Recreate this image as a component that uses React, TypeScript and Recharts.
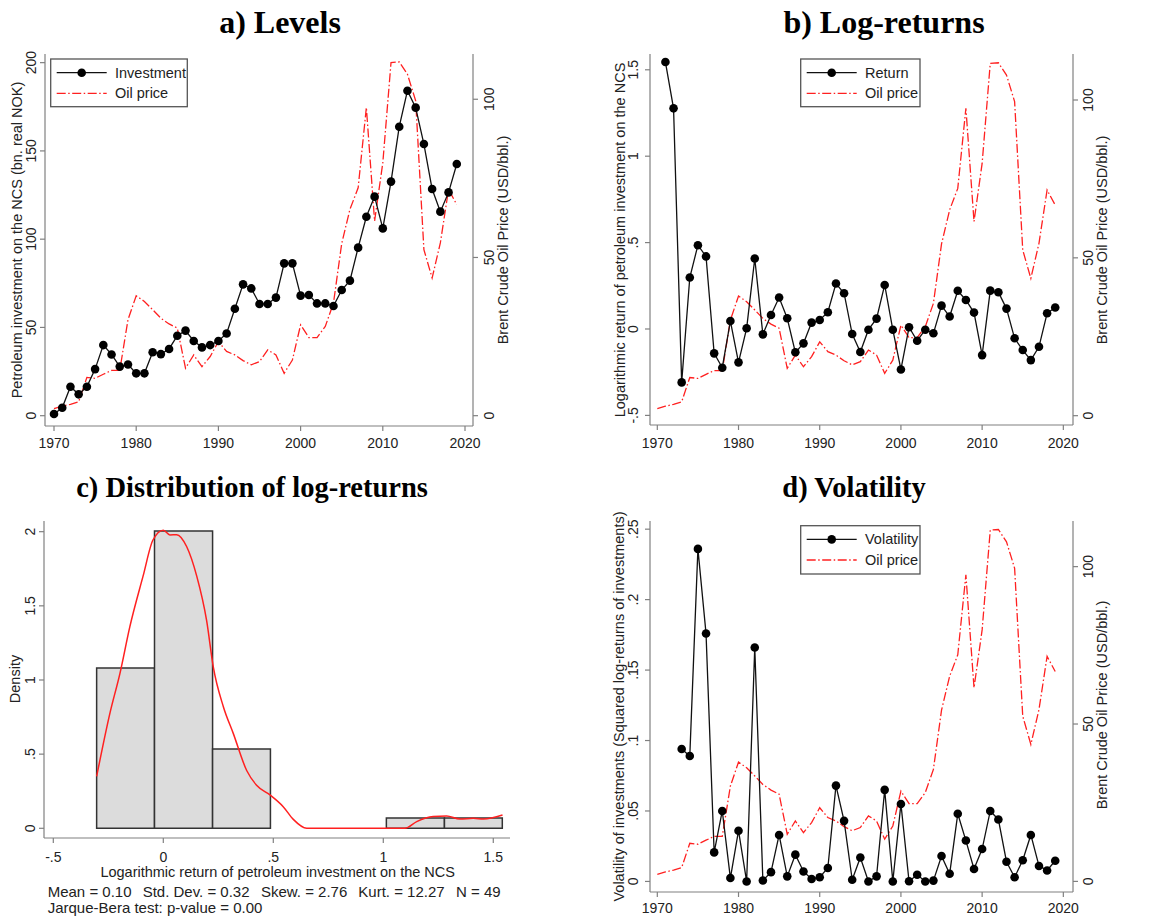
import React from 'react';
import { ComposedChart, Line, XAxis, YAxis, ReferenceArea } from 'recharts';

// yearly series 1970-2019
const years = [
  1970, 1971, 1972, 1973, 1974, 1975, 1976, 1977, 1978, 1979,
  1980, 1981, 1982, 1983, 1984, 1985, 1986, 1987, 1988, 1989,
  1990, 1991, 1992, 1993, 1994, 1995, 1996, 1997, 1998, 1999,
  2000, 2001, 2002, 2003, 2004, 2005, 2006, 2007, 2008, 2009,
  2010, 2011, 2012, 2013, 2014, 2015, 2016, 2017, 2018, 2019,
];

// bn. real NOK
const investment = [
  1, 4.5, 16.4, 12.1, 16.4, 26.4, 40, 34.7, 27.8, 29,
  24, 24, 35.9, 34.9, 37.8, 45.3, 48.2, 42.3, 38.7, 40,
  42.3, 46.6, 60.6, 74.4, 72.1, 63.3, 63.3, 66.9, 86.3, 86.3,
  68, 68.4, 63.6, 63.6, 62.1, 71.2, 76.5, 95.2, 112.7, 124.1,
  106.1, 132.6, 163.7, 184.1, 174.5, 153.9, 128.4, 115.6, 126.5, 142.6,
];

// log-returns
const logReturn = [
  null, 1.545, 1.277, -0.309, 0.298, 0.485, 0.42, -0.141, -0.224, 0.046,
  -0.193, 0.004, 0.408, -0.031, 0.081, 0.182, 0.062, -0.135, -0.083, 0.037,
  0.052, 0.097, 0.263, 0.207, -0.029, -0.133, -0.004, 0.06, 0.255, -0.004,
  -0.234, 0.01, -0.068, -0.004, -0.025, 0.135, 0.072, 0.221, 0.168, 0.095,
  -0.151, 0.222, 0.213, 0.118, -0.054, -0.122, -0.18, -0.103, 0.091, 0.124,
];

// squared log-returns
const volatility = [
  null, null, null, 0.094, 0.089, 0.236, 0.176, 0.0206, 0.05, 0.0024,
  0.036, 0.0, 0.166, 0.0007, 0.0066, 0.033, 0.0036, 0.019, 0.0071, 0.0017,
  0.003, 0.0095, 0.068, 0.043, 0.0012, 0.017, 0.0, 0.0036, 0.065, 0.0,
  0.055, 0.0001, 0.0047, 0.0, 0.0006, 0.018, 0.0054, 0.048, 0.029, 0.0088,
  0.023, 0.05, 0.044, 0.014, 0.003, 0.015, 0.033, 0.011, 0.0078, 0.0147,
];

// Brent, USD/bbl.
const oilPrice = [
  2.2, 3.0, 3.6, 4.4, 12.1, 11.8, 13.1, 14.3, 14.3, 30.3,
  37.9, 36.1, 33.5, 30.8, 29.0, 27.7, 15.0, 19.2, 15.5, 18.7,
  23.4, 20.3, 19.2, 17.4, 16.1, 17.1, 20.8, 19.2, 13.4, 17.6,
  28.7, 24.7, 24.7, 28.2, 35.6, 54.4, 65.2, 72.0, 97.4, 61.5,
  79.9, 111.6, 111.8, 107.9, 99.5, 52.5, 43.5, 54.6, 71.5, 66.7,
];

// histogram of log-returns
const binLo = [-0.303, -0.04, 0.224, 0.487, 0.751, 1.014, 1.278];
const binHi = [-0.04, 0.224, 0.487, 0.751, 1.014, 1.278, 1.541];
const binDensity = [1.08, 2.005, 0.535, 0, 0, 0.07, 0.07];

// kernel density
const kdeX = [
  -0.303, -0.242, -0.197, -0.152, -0.092, -0.047, 0.0, 0.03, 0.061, 0.106,
  0.152, 0.197, 0.227, 0.273, 0.318, 0.379, 0.424, 0.485, 0.545, 0.591,
  0.652, 0.773, 0.924, 1.098, 1.152, 1.227, 1.288, 1.348, 1.409, 1.455, 1.542,
];
const kdeY = [
  0.35, 0.78, 1.045, 1.36, 1.7, 1.944, 2.01, 1.978, 1.98, 1.9,
  1.7, 1.4, 1.09, 0.82, 0.64, 0.39, 0.29, 0.225, 0.146, 0.06,
  0.0, 0.0, 0.0, 0.0, 0.045, 0.079, 0.083, 0.063, 0.067, 0.063, 0.09,
];

const yearTicks = [1970, 1980, 1990, 2000, 2010, 2020];
const oilTicks = [0, 50, 100];
const invTicks = [0, 50, 100, 150, 200];
const retTicks = [-0.5, 0, 0.5, 1, 1.5];
const volTicks = [0, 0.05, 0.1, 0.15, 0.2, 0.25];
const densTicks = [0, 0.5, 1, 1.5, 2];
const histXTicks = [-0.5, 0, 0.5, 1, 1.5];

const rows = years.map((year, i) => ({
  year,
  inv: investment[i],
  ret: logReturn[i],
  vol: volatility[i],
  oil: oilPrice[i],
}));
const kdeRows = kdeX.map((x, i) => ({ x, y: kdeY[i] }));

const AXIS = '#808080';
const TXT = '#222';
const RED = '#ff2020';
const DASH = '9 2.5 1.5 2.5';
const SANS = '"Liberation Sans", Arial, sans-serif';
const SERIF = '"Liberation Serif", "Times New Roman", serif';
const FS = 14;

const stata = (v: number) => {
  const s = String(Math.round(v * 1000) / 1000);
  return s.replace(/^(-?)0\./, '$1.');
};

const yTick = (cx: number) => (p: any) => (
  <text
    x={cx}
    y={p.y}
    transform={`rotate(-90 ${cx} ${p.y})`}
    textAnchor="middle"
    dominantBaseline="central"
    fontSize={FS}
    fontFamily={SANS}
    fill={TXT}
  >
    {stata(p.payload.value)}
  </text>
);

const xTick = (cy: number) => (p: any) => (
  <text
    x={p.x}
    y={cy}
    textAnchor="middle"
    dominantBaseline="central"
    fontSize={FS}
    fontFamily={SANS}
    fill={TXT}
  >
    {stata(p.payload.value)}
  </text>
);

const axisStyle = {
  axisLine: { stroke: AXIS, strokeWidth: 1.2 },
  tickLine: { stroke: AXIS, strokeWidth: 1.2 },
  tickSize: 5,
  interval: 0 as const,
  allowDataOverflow: true,
};

function TimePanel(props: {
  left: number;
  top: number;
  width: number;
  height: number;
  marginTop: number;
  leftW: number;
  rightW: number;
  xH: number;
  xDomain: [number, number];
  lDomain: [number, number];
  lTicks: number[];
  rDomain: [number, number];
  series: 'inv' | 'ret' | 'vol';
  lTickX: number;
  rTickX: number;
  xTickY: number;
}) {
  return (
    <div style={{ position: 'absolute', left: props.left, top: props.top }}>
      <ComposedChart
        width={props.width}
        height={props.height}
        data={rows}
        margin={{ top: props.marginTop, right: 0, bottom: 0, left: 0 }}
      >
        <XAxis
          dataKey="year"
          type="number"
          domain={props.xDomain}
          ticks={yearTicks}
          height={props.xH}
          tick={xTick(props.xTickY)}
          {...axisStyle}
        />
        <YAxis
          yAxisId="l"
          type="number"
          domain={props.lDomain}
          ticks={props.lTicks}
          width={props.leftW}
          tick={yTick(props.lTickX)}
          {...axisStyle}
        />
        <YAxis
          yAxisId="r"
          orientation="right"
          type="number"
          domain={props.rDomain}
          ticks={oilTicks}
          width={props.rightW}
          tick={yTick(props.rTickX)}
          {...axisStyle}
        />
        <Line
          yAxisId="r"
          dataKey="oil"
          type="linear"
          stroke={RED}
          strokeWidth={1.3}
          strokeDasharray={DASH}
          dot={false}
          activeDot={false}
          isAnimationActive={false}
        />
        <Line
          yAxisId="l"
          dataKey={props.series}
          type="linear"
          stroke="#111"
          strokeWidth={1.3}
          dot={{ r: 4.3, fill: '#000', stroke: 'none' }}
          activeDot={false}
          connectNulls={false}
          isAnimationActive={false}
        />
      </ComposedChart>
    </div>
  );
}

function LegendBox({ x, y, w, h, label }: { x: number; y: number; w: number; h: number; label: string }) {
  const r1 = y + 13.7;
  const r2 = y + 34.3;
  const s1 = x + 6;
  const s2 = x + 56;
  const tx = x + 64.3;
  return (
    <g>
      <rect x={x} y={y} width={w} height={h} fill="#fff" stroke="#555" strokeWidth={1.3} />
      <line x1={s1} y1={r1} x2={s2} y2={r1} stroke="#111" strokeWidth={1.3} />
      <circle cx={(s1 + s2) / 2} cy={r1} r={4.3} fill="#000" />
      <line x1={s1} y1={r2} x2={s2} y2={r2} stroke={RED} strokeWidth={1.3} strokeDasharray={DASH} />
      <text x={tx} y={r1} dominantBaseline="central" fontSize={14.5} fontFamily={SANS} fill={TXT}>{label}</text>
      <text x={tx} y={r2} dominantBaseline="central" fontSize={14.5} fontFamily={SANS} fill={TXT}>Oil price</text>
    </g>
  );
}

const VText = ({ x, y, children }: { x: number; y: number; children: React.ReactNode }) => (
  <text
    x={x}
    y={y}
    transform={`rotate(-90 ${x} ${y})`}
    textAnchor="middle"
    dominantBaseline="central"
    fontSize={14.5}
    fontFamily={SANS}
    fill={TXT}
  >
    {children}
  </text>
);

export default function App() {
  return (
    <div
      style={{
        position: 'absolute',
        left: 0,
        top: 0,
        width: 1174,
        height: 917,
        background: '#fff',
        overflow: 'hidden',
        fontFamily: SANS,
      }}
    >
      {/* a) Levels */}
      <TimePanel
        left={0} top={40} width={580} height={420} marginTop={14}
        leftW={45} rightW={107} xH={34}
        xDomain={[1968.905, 2020.973]}
        lDomain={[-5.84, 204.9]} lTicks={invTicks}
        rDomain={[-3.26, 114.3]}
        series="inv" lTickX={31} rTickX={489} xTickY={403.3}
      />
      {/* b) Log-returns */}
      <TimePanel
        left={590} top={40} width={584} height={420} marginTop={14}
        leftW={60} rightW={101} xH={35}
        xDomain={[1969.1, 2021.19]}
        lDomain={[-0.5556, 1.5914]} lTicks={retTicks}
        rDomain={[-2.95, 114.57]}
        series="ret" lTickX={43.3} rTickX={498.3} xTickY={403.3}
      />
      {/* c) Distribution */}
      <div style={{ position: 'absolute', left: 0, top: 460 }}>
        <ComposedChart width={580} height={457} data={kdeRows} margin={{ top: 61, right: 70, bottom: 0, left: 0 }}>
          <XAxis
            dataKey="x"
            type="number"
            domain={[-0.5423, 1.576]}
            ticks={histXTicks}
            height={79}
            tick={xTick(396.7)}
            {...axisStyle}
          />
          <YAxis
            type="number"
            domain={[-0.0654, 2.072]}
            ticks={densTicks}
            width={44}
            tick={yTick(30)}
            {...axisStyle}
          />
          {binDensity.map((d, i) =>
            d > 0 ? (
              <ReferenceArea
                key={i}
                x1={binLo[i]}
                x2={binHi[i]}
                y1={0}
                y2={d}
                fill="#dcdcdc"
                fillOpacity={1}
                stroke="#333"
                strokeWidth={1.5}
                strokeOpacity={1}
                ifOverflow="visible"
              />
            ) : null
          )}
          <Line
            dataKey="y"
            type="monotone"
            stroke={RED}
            strokeWidth={1.5}
            dot={false}
            activeDot={false}
            isAnimationActive={false}
          />
        </ComposedChart>
      </div>
      {/* d) Volatility */}
      <TimePanel
        left={590} top={460} width={584} height={457} marginTop={61}
        leftW={60} rightW={101} xH={25}
        xDomain={[1969.1, 2021.19]}
        lDomain={[-0.0075, 0.2558]} lTicks={volTicks}
        rDomain={[-3.37, 114.5]}
        series="vol" lTickX={43.3} rTickX={498.3} xTickY={448.3}
      />

      <svg
        width={1174}
        height={917}
        style={{ position: 'absolute', left: 0, top: 0, pointerEvents: 'none', zIndex: 5 }}
      >
        <g fontFamily={SERIF} fontWeight="bold" fill="#000" textAnchor="middle">
          <text x={280} y={33} fontSize={32}>a) Levels</text>
          <text x={884} y={33} fontSize={32}>b) Log-returns</text>
          <text x={252} y={497} fontSize={28.5}>c) Distribution of log-returns</text>
          <text x={854} y={497} fontSize={28.5}>d) Volatility</text>
        </g>

        <VText x={16.7} y={240}>Petroleum investment on the NCS (bn. real NOK)</VText>
        <VText x={503} y={240}>Brent Crude Oil Price (USD/bbl.)</VText>
        <VText x={620} y={240}>Logarithmic return of petroleum investment on the NCS</VText>
        <VText x={1101.7} y={240}>Brent Crude Oil Price (USD/bbl.)</VText>
        <VText x={15} y={679}>Density</VText>
        <VText x={619.3} y={706.5}>Volatility of investments (Squared log-returns of investments)</VText>
        <VText x={1101.7} y={705}>Brent Crude Oil Price (USD/bbl.)</VText>

        <text x={277.7} y={876.7} textAnchor="middle" fontSize={14.5} fontFamily={SANS} fill={TXT}>
          Logarithmic return of petroleum investment on the NCS
        </text>
        <g fontSize={15} fontFamily={SANS} fill={TXT}>
          <text x={47.7} y={897.3}>Mean = 0.10</text>
          <text x={142.7} y={897.3}>Std. Dev. = 0.32</text>
          <text x={261} y={897.3}>Skew. = 2.76</text>
          <text x={358.3} y={897.3}>Kurt. = 12.27</text>
          <text x={456} y={897.3}>N = 49</text>
          <text x={47.7} y={912.5}>Jarque-Bera test: p-value = 0.00</text>
        </g>

        <LegendBox x={50.7} y={59} w={136.6} h={47.7} label="Investment" />
        <LegendBox x={800.7} y={59} w={119.3} h={47.7} label="Return" />
        <LegendBox x={800.7} y={525.7} w={119.3} h={48.3} label="Volatility" />
      </svg>
    </div>
  );
}
